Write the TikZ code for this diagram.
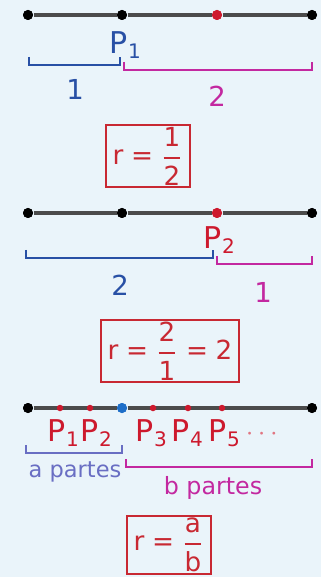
\documentclass[tikz,border=0pt]{standalone}
\usepackage{amsmath}
\usepackage{fontspec}
\setmainfont{DejaVu Sans}
\usepackage{xcolor}
\usepackage{tikz}
\usetikzlibrary{positioning,calc}

\definecolor{bgblue}{RGB}{234,244,250}
\definecolor{lineg}{RGB}{75,75,75}
\definecolor{ptred}{RGB}{205,25,45}
\definecolor{segblue}{RGB}{40,80,165}
\definecolor{segmag}{RGB}{195,40,160}
\definecolor{segviolet}{RGB}{105,110,195}
\definecolor{boxred}{RGB}{200,40,50}
\definecolor{midblue}{RGB}{30,110,200}

\newcommand{\rfrac}[2]{$\displaystyle\text{r}\;\text{=}\;\genfrac{}{}{0.9pt}{}{\text{#1}}{\text{#2}}$}

\begin{document}
\begin{tikzpicture}[x=0.4pt,y=-0.4pt,
	dot/.style={circle, fill=black, inner sep=0pt, minimum size=4pt},
	reddot/.style={circle, fill=ptred, inner sep=0pt, minimum size=4pt},
	smalldot/.style={circle, fill=ptred, inner sep=0pt, minimum size=2.6pt},
	axis/.style={lineg, line width=1.3pt},
	bracket/.style={line width=1.1pt},
	lbl/.style={font=\fontsize{11}{13}\selectfont, inner sep=0pt},
	plbl/.style={font=\fontsize{12}{14}\selectfont, inner sep=0pt},
	rbox/.style={draw=boxred, line width=0.8pt, text=boxred, inner xsep=2.5pt, inner ysep=0.6pt, font=\fontsize{10.5}{12}\selectfont}]

	\fill[bgblue] (0,0) rectangle (321,577);
	\useasboundingbox (0,0) rectangle (321,577);

	% first segment, P1 at one third
	\node[dot] (a1) at (28,15) {};
	\node[dot] (a2) at (122,15) {};
	\node[reddot] (a3) at (217,15) {};
	\node[dot] (a4) at (312,15) {};
	\draw[axis] (a1) -- (a2) -- (a3) -- (a4);
	\node[dot] at (a2) {};
	\node[dot] at (a1) {};
	\node[dot] at (a4) {};
	\node[reddot] at (a3) {};
	\node[plbl, text=segblue] (p1) at (126,45) {P\textsubscript{1}};

	\coordinate (ab1) at (29,57);
	\coordinate (ab2) at (120,57);
	\coordinate (ac1) at (124,62);
	\coordinate (ac2) at (312,62);
	\draw[bracket, segblue] (ab1) -- ++(0,8) -| (ab2);
	\draw[bracket, segmag] (ac1) -- ++(0,8) -| (ac2);
	\node[lbl, text=segblue] (n1) at (75,89) {1};
	\node[lbl, text=segmag] (n2) at (217,96) {2};

	\node[rbox] (r1) at (148,156) {\rfrac{1}{2}};

	% second segment, P2 at two thirds
	\node[dot] (b1) at (28,213) {};
	\node[dot] (b2) at (122,213) {};
	\node[reddot] (b3) at (217,213) {};
	\node[dot] (b4) at (312,213) {};
	\draw[axis] (b1) -- (b2) -- (b3) -- (b4);
	\node[dot] at (b1) {};
	\node[dot] at (b2) {};
	\node[dot] at (b4) {};
	\node[reddot] at (b3) {};
	\node[plbl, text=ptred] (p2) at (220,240) {P\textsubscript{2}};

	\coordinate (bb1) at (26,250);
	\coordinate (bb2) at (213,250);
	\coordinate (bc1) at (217,256);
	\coordinate (bc2) at (312,256);
	\draw[bracket, segblue] (bb1) -- ++(0,8) -| (bb2);
	\draw[bracket, segmag] (bc1) -- ++(0,8) -| (bc2);
	\node[lbl, text=segblue] (m2) at (120,285) {2};
	\node[lbl, text=segmag] (m1) at (263,292) {1};

	\node[rbox] (r2) at (170,351) {\rfrac{2}{1}$\;\text{=}\;\text{2}$};

	% general case
	\node[dot] (c1) at (28,408) {};
	\node[circle, fill=midblue, inner sep=0pt, minimum size=4pt] (c0) at (122,408) {};
	\node[dot] (c9) at (312,408) {};
	\draw[axis] (c1) -- (c0) -- (c9);
	\node[dot] at (c1) {};
	\node[dot] at (c9) {};
	\node[circle, fill=midblue, inner sep=0pt, minimum size=4pt] at (c0) {};
	\foreach \x/\n in {60/q1, 90/q2, 153/q3, 188/q4, 222/q5}
		\node[smalldot] (\n) at (\x,408) {};
	\node[plbl, text=ptred] (l1) at (64,433) {P\textsubscript{1}};
	\node[plbl, text=ptred] (l2) at (97,433) {P\textsubscript{2}};
	\node[plbl, text=ptred] (l3) at (152,433) {P\textsubscript{3}};
	\node[plbl, text=ptred] (l4) at (188,433) {P\textsubscript{4}};
	\node[plbl, text=ptred] (l5) at (225,433) {P\textsubscript{5}};
	\node[lbl, text=ptred!60] (dots) at (264,434) {$\cdots$};

	\coordinate (cb1) at (26,445);
	\coordinate (cb2) at (122,445);
	\coordinate (cc1) at (126,459);
	\coordinate (cc2) at (312,459);
	\draw[bracket, segviolet] (cb1) -- ++(0,8) -| (cb2);
	\draw[bracket, segmag] (cc1) -- ++(0,8) -| (cc2);
	\node[lbl, font=\fontsize{9}{11}\selectfont, text=segviolet] (ta) at (75,472) {a partes};
	\node[lbl, font=\fontsize{9.5}{11}\selectfont, text=segmag] (tb) at (213,488) {b partes};

	\node[rbox] (r3) at (169,545) {\rfrac{a}{b}};
\end{tikzpicture}
\end{document}
